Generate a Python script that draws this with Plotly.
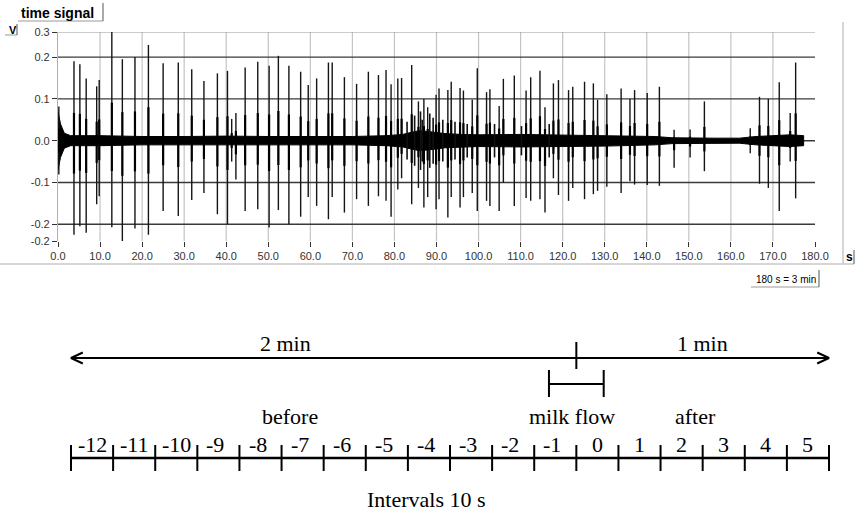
import plotly.graph_objects as go

# ---------------- data ----------------
# spikes of the time signal: time (s), positive peak (V), negative peak (V)
spike_t = [0.2, 3.8, 5.2, 6.7, 9.2, 9.8, 12.8, 15.3, 18.3, 21.5, 25.0, 28.6, 31.8, 34.7,
           37.9, 40.3, 41.3, 42.3, 44.5, 47.5, 50.2, 52.4, 54.9, 57.7, 59.5, 61.5, 64.3,
           65.2, 68.1, 71.0, 73.8, 76.2, 78.0, 79.2, 80.8, 81.7, 84.1, 85.7, 87.0, 87.9,
           89.9, 90.6, 92.7, 93.5, 95.6, 96.4, 98.5, 99.7, 101.9, 102.7, 104.9, 105.9,
           108.5, 111.3, 112.4, 114.6, 115.8, 117.8, 119.0, 121.4, 122.4, 125.2, 127.3,
           128.3, 130.5, 133.9, 136.0, 137.1, 140.1, 143.0, 146.5, 150.3, 153.7, 164.6,
           166.8, 168.9, 171.5, 174.1, 175.4]
spike_pos = [0.082, 0.19, 0.183, 0.149, 0.13, 0.145, 0.26, 0.195, 0.2, 0.229, 0.185, 0.187,
             0.171, 0.143, 0.161, 0.167, 0.052, 0.066, 0.175, 0.189, 0.179, 0.203, 0.179,
             0.165, 0.133, 0.149, 0.187, 0.187, 0.152, 0.136, 0.165, 0.157, 0.169, 0.135,
             0.149, 0.15, 0.181, 0.094, 0.1, 0.08, 0.11, 0.125, 0.121, 0.141, 0.126, 0.12,
             0.098, 0.173, 0.116, 0.123, 0.083, 0.148, 0.156, 0.12, 0.152, 0.167, 0.08,
             0.137, 0.145, 0.121, 0.129, 0.141, 0.137, 0.098, 0.111, 0.125, 0.1, 0.121,
             0.114, 0.129, 0.026, 0.027, 0.094, 0.03, 0.105, 0.1, 0.14, 0.066, 0.187]
spike_neg = [-0.081, -0.225, -0.205, -0.22, -0.152, -0.133, -0.207, -0.24, -0.21, -0.225,
             -0.168, -0.18, -0.142, -0.125, -0.176, -0.2, -0.05, -0.093, -0.168, -0.164,
             -0.208, -0.166, -0.2, -0.182, -0.135, -0.156, -0.188, -0.135, -0.172, -0.14,
             -0.156, -0.133, -0.144, -0.182, -0.117, -0.09, -0.152, -0.113, -0.16, -0.135,
             -0.164, -0.14, -0.184, -0.135, -0.16, -0.135, -0.125, -0.168, -0.144, -0.156,
             -0.168, -0.1, -0.156, -0.137, -0.144, -0.14, -0.172, -0.09, -0.13, -0.144,
             -0.113, -0.14, -0.128, -0.12, -0.11, -0.125, -0.097, -0.105, -0.106, -0.108,
             -0.065, -0.04, -0.073, -0.03, -0.103, -0.113, -0.168, -0.05, -0.138]
# smaller bursts in the busy part of the record: time (s), half amplitude (V)
burst_t = [83.0, 84.8, 86.2, 86.6, 88.4, 89.2, 91.5, 94.4, 97.3, 103.8, 110.2, 116.8]
burst_a = [0.045, 0.06, 0.07, 0.05, 0.065, 0.055, 0.05, 0.045, 0.04, 0.04, 0.035, 0.04]
# background noise envelope: time (s), half amplitude (V)
noise_t = [0, 0.6, 1.5, 3, 10, 20, 30, 40, 50, 60, 70, 78, 82, 84, 86, 88, 90, 92, 96, 100,
           110, 120, 130, 136, 142, 146, 150, 156, 162, 166, 170, 174, 177.3]
noise_a = [0.07, 0.04, 0.018, 0.012, 0.012, 0.01, 0.01, 0.011, 0.01, 0.01, 0.01, 0.012,
           0.015, 0.02, 0.024, 0.022, 0.02, 0.017, 0.015, 0.014, 0.015, 0.014, 0.013, 0.012,
           0.01, 0.007, 0.006, 0.006, 0.006, 0.01, 0.012, 0.014, 0.012]

x_ticks = list(range(0, 181, 10))
x_ticktext = [f"{v:.1f}" for v in x_ticks]
y_ticks = [-0.24, -0.2, -0.1, 0.0, 0.1, 0.2, 0.26]
y_ticktext = ["-0.2", "-0.2", "-0.1", "0.0", "0.1", "0.2", "0.3"]
y_grid_dark = [-0.2, -0.1, 0.0, 0.1, 0.2]
x_grid = list(range(10, 171, 10))

# scheme of the intervals (seconds relative to the milk-flow onset)
interval_labels = list(range(-12, 6))
interval_len = 10
before_s, after_s = 120, 60
milk_flow = (-6.5, 6.5)
period_labels = ["2 min", "1 min"]
phase_labels = ["before", "milk flow", "after"]
axis_title = "Intervals 10 s"

W, H = 858, 513
def px(x):
    return x / W
def py(y):
    return 1 - y / H

fig = go.Figure()

# ---------------- top: time signal ----------------
Y0, Y1 = -0.24, 0.26
env_x = noise_t + noise_t[::-1]
env_y = noise_a + [-a for a in noise_a[::-1]]
fig.add_trace(go.Scatter(x=env_x, y=env_y, fill="toself", fillcolor="#000000",
                         line=dict(color="#000000", width=1), mode="lines",
                         hoverinfo="skip", showlegend=False, xaxis="x", yaxis="y"))
sx, sy, cx, cy = [], [], [], []
for t, p, n in zip(spike_t, spike_pos, spike_neg):
    sx += [t, t, None]
    sy += [p, n, None]
    cx += [t, t, None]
    cy += [0.35 * p, 0.35 * n, None]
bx, by = [], []
for t, a in zip(burst_t, burst_a):
    bx += [t, t, None]
    by += [a, -a, None]
fig.add_trace(go.Scatter(x=bx, y=by, mode="lines", line=dict(color="#111111", width=1.6),
                         hoverinfo="skip", showlegend=False, xaxis="x", yaxis="y"))
fig.add_trace(go.Scatter(x=sx, y=sy, mode="lines", line=dict(color="#151515", width=1.4),
                         hoverinfo="skip", showlegend=False, xaxis="x", yaxis="y"))
fig.add_trace(go.Scatter(x=cx, y=cy, mode="lines", line=dict(color="#000000", width=2.2),
                         hoverinfo="skip", showlegend=False, xaxis="x", yaxis="y"))

shapes = []
for g in x_grid:
    shapes.append(dict(type="line", xref="x", yref="y", x0=g, x1=g, y0=Y0, y1=Y1,
                       line=dict(color="#c4c4c4", width=1.2), layer="below"))
for g in y_grid_dark:
    shapes.append(dict(type="line", xref="x", yref="y", x0=0, x1=180, y0=g, y1=g,
                       line=dict(color="#3a3a3a", width=1.4), layer="below"))
shapes.append(dict(type="line", xref="x", yref="y", x0=0, x1=180, y0=Y1, y1=Y1,
                   line=dict(color="#9a9a9a", width=1.2), layer="below"))

# panel frame and boxed labels (paper coordinates)
frame = "#c8c8c8"
shapes += [
    dict(type="line", xref="paper", yref="paper", x0=px(843), x1=px(843), y0=py(22), y1=py(264),
         line=dict(color=frame, width=1.5)),
    dict(type="line", xref="paper", yref="paper", x0=px(0), x1=px(854), y0=py(264), y1=py(264),
         line=dict(color=frame, width=1.5)),
    dict(type="line", xref="paper", yref="paper", x0=px(854), x1=px(854), y0=py(250), y1=py(264),
         line=dict(color="#555", width=1)),
    dict(type="line", xref="paper", yref="paper", x0=px(18), x1=px(103), y0=py(21), y1=py(21),
         line=dict(color="#999", width=1)),
    dict(type="line", xref="paper", yref="paper", x0=px(103), x1=px(103), y0=py(3), y1=py(21),
         line=dict(color="#555", width=1)),
    dict(type="line", xref="paper", yref="paper", x0=px(5), x1=px(17), y0=py(35), y1=py(35),
         line=dict(color="#999", width=1)),
    dict(type="line", xref="paper", yref="paper", x0=px(17), x1=px(17), y0=py(24), y1=py(35),
         line=dict(color="#555", width=1)),
    dict(type="line", xref="paper", yref="paper", x0=px(751), x1=px(819), y0=py(287), y1=py(287),
         line=dict(color="#999", width=1)),
    dict(type="line", xref="paper", yref="paper", x0=px(819), x1=px(819), y0=py(270), y1=py(287),
         line=dict(color="#555", width=1)),
]

ann = [
    dict(text="<b>time signal</b>", x=px(19), y=py(13), xref="paper", yref="paper",
         xanchor="left", yanchor="middle", showarrow=False,
         font=dict(family="Liberation Sans", size=14, color="#000")),
    dict(text="<b>V</b>", x=px(7), y=py(30), xref="paper", yref="paper",
         xanchor="left", yanchor="middle", showarrow=False,
         font=dict(family="Liberation Sans", size=11, color="#000")),
    dict(text="<b>s</b>", x=px(849), y=py(257), xref="paper", yref="paper",
         xanchor="center", yanchor="middle", showarrow=False,
         font=dict(family="Liberation Sans", size=12, color="#000")),
    dict(text="180 s = 3 min", x=px(786), y=py(279), xref="paper", yref="paper",
         xanchor="center", yanchor="middle", showarrow=False,
         font=dict(family="Liberation Sans", size=10, color="#000")),
]

# ---------------- bottom: scheme of intervals ----------------
bounds = [-before_s + interval_len * i for i in range(len(interval_labels) + 1)]
RULER_Y, TICK_TOP, TICK_BOT = 458, 445, 471
ARROW_Y = 358
black = "#000000"
ser = dict(family="Liberation Serif", size=22, color=black)

def seg(xs, ys, width):
    fig.add_trace(go.Scatter(x=xs, y=ys, mode="lines", line=dict(color=black, width=width),
                             hoverinfo="skip", showlegend=False, xaxis="x2", yaxis="y2"))

# ruler
seg([bounds[0], bounds[-1]], [RULER_Y, RULER_Y], 2.6)
tx, ty = [], []
for b in bounds:
    tx += [b, b, None]
    ty += [TICK_TOP, TICK_BOT, None]
seg(tx, ty, 2)
for k, b in zip(interval_labels, bounds[:-1]):
    ann.append(dict(text=str(k), x=b + interval_len / 2, y=444, xref="x2", yref="y2",
                    xanchor="center", yanchor="middle", showarrow=False, font=ser,
                    xshift=-3 if -10 < k < 0 else 0))

# double arrow
dx, dy = 2.8, 5.5
seg([-before_s, after_s], [ARROW_Y, ARROW_Y], 2)
seg([-before_s + dx, -before_s, -before_s + dx], [ARROW_Y - dy, ARROW_Y, ARROW_Y + dy], 2)
seg([after_s - dx, after_s, after_s - dx], [ARROW_Y - dy, ARROW_Y, ARROW_Y + dy], 2)
seg([0, 0], [342, 369], 2)
# milk flow bracket
seg([milk_flow[0], milk_flow[1]], [384, 384], 2)
seg([milk_flow[0], milk_flow[0], None, milk_flow[1], milk_flow[1]],
    [370, 397, None, 370, 397], 2)

ann += [
    dict(text=period_labels[0], x=-69, y=343, xref="x2", yref="y2", showarrow=False, font=ser),
    dict(text=period_labels[1], x=after_s / 2, y=343, xref="x2", yref="y2", showarrow=False, font=ser),
    dict(text=phase_labels[0], x=-68, y=416, xref="x2", yref="y2", showarrow=False, font=ser),
    dict(text=phase_labels[1], x=-1.1, y=416, xref="x2", yref="y2", showarrow=False, font=ser),
    dict(text=phase_labels[2], x=28.4, y=416, xref="x2", yref="y2", showarrow=False, font=ser),
    dict(text=axis_title, x=-35.5, y=499, xref="x2", yref="y2", showarrow=False, font=ser),
]

tickfont = dict(family="Liberation Sans", size=11, color="#333")
fig.update_layout(
    width=W, height=H, margin=dict(l=0, r=0, t=0, b=0, autoexpand=False),
    paper_bgcolor="white", plot_bgcolor="rgba(0,0,0,0)",
    showlegend=False, shapes=shapes, annotations=ann,
    xaxis=dict(domain=[px(58), px(815)], range=[0, 180], tickvals=x_ticks,
               ticktext=x_ticktext, ticks="outside", ticklen=5, tickcolor="#333",
               showgrid=False, zeroline=False, showline=False, tickfont=tickfont,
               anchor="y", fixedrange=True, automargin=False),
    yaxis=dict(domain=[py(241), py(32)], range=[Y0, Y1], tickvals=y_ticks,
               ticktext=y_ticktext, ticks="outside", ticklen=5, tickcolor="#333",
               showgrid=False, zeroline=False, showline=True, linecolor="#b0b0b0",
               linewidth=1.2, tickfont=tickfont, anchor="x", fixedrange=True,
               automargin=False),
    xaxis2=dict(domain=[0, 1], range=[-120 - 71 / 4.2111, -120 + 787 / 4.2111],
                visible=False, anchor="y2", fixedrange=True),
    yaxis2=dict(domain=[0, py(282)], range=[513, 282], visible=False, anchor="x2",
                fixedrange=True),
)

fig.write_html("out.html", config={"responsive": False, "displayModeBar": False},
               post_script="document.body.style.margin='0';document.body.style.overflow='hidden';")
